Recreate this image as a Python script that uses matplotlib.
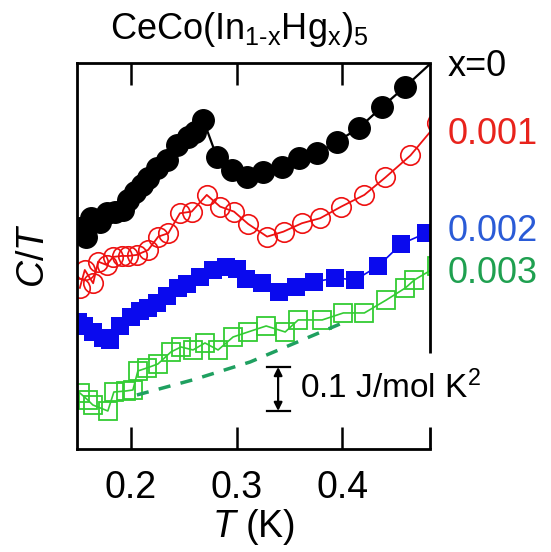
import matplotlib
matplotlib.use("Agg")
import matplotlib.pyplot as plt
import numpy as np

plt.rcParams['font.family'] = ['Liberation Sans', 'DejaVu Sans']
plt.rcParams['mathtext.fontset'] = 'custom'
plt.rcParams['mathtext.rm'] = 'Liberation Sans'
plt.rcParams['mathtext.it'] = 'Liberation Sans:italic'

# C/T curves (offset, J/mol K^2)
T_x0 = [0.1517, 0.158, 0.1627, 0.1706, 0.177, 0.1848, 0.1927, 0.1974, 0.2038, 0.2101,
        0.2164, 0.2244, 0.2338, 0.2433, 0.2543, 0.2607, 0.2685, 0.2812, 0.2955, 0.3097,
        0.3254, 0.3428, 0.3586, 0.376, 0.395, 0.4155, 0.4376, 0.4597, 0.49]
C_x0 = [0.502, 0.4825, 0.5243, 0.5166, 0.5357, 0.5394, 0.5432, 0.5659, 0.5848, 0.60,
        0.6152, 0.638, 0.6568, 0.6909, 0.7098, 0.7212, 0.7477, 0.6643, 0.6341, 0.6189,
        0.6303, 0.6416, 0.6606, 0.672, 0.6984, 0.7288, 0.7773, 0.8234, 0.89]

T_x1 = [0.1517, 0.1564, 0.1643, 0.169, 0.177, 0.1832, 0.1912, 0.1974, 0.2054, 0.2164,
        0.2259, 0.2354, 0.2464, 0.2575, 0.2718, 0.2844, 0.2976, 0.3109, 0.3289, 0.3444,
        0.3618, 0.3791, 0.399, 0.4209, 0.4408, 0.4645, 0.49]
C_x1 = [0.366, 0.4068, 0.3765, 0.4257, 0.4182, 0.4364, 0.4386, 0.4386, 0.4409, 0.4523,
        0.4825, 0.4902, 0.5356, 0.5393, 0.5773, 0.5507, 0.5393, 0.5114, 0.4825, 0.4939,
        0.5129, 0.5243, 0.5507, 0.5773, 0.617, 0.667, 0.74]

T_x2 = [0.1498, 0.1555, 0.164, 0.1735, 0.1801, 0.1896, 0.2, 0.2085, 0.2161, 0.2246,
        0.2341, 0.2445, 0.2531, 0.2654, 0.2777, 0.29, 0.3005, 0.309, 0.3242, 0.3403,
        0.3564, 0.3735, 0.3934, 0.4123, 0.4341, 0.4559, 0.4796]
C_x2 = [0.2886, 0.2795, 0.2659, 0.2523, 0.2477, 0.2795, 0.30, 0.3136, 0.3205, 0.3318,
        0.3477, 0.3659, 0.375, 0.3909, 0.4068, 0.4136, 0.4091, 0.3864, 0.3773, 0.3568,
        0.3682, 0.3795, 0.3886, 0.3841, 0.4159, 0.4659, 0.4909]

T_x3 = [0.1517, 0.1592, 0.164, 0.1782, 0.1839, 0.1953, 0.2019, 0.2066, 0.2152, 0.2256,
        0.2379, 0.2474, 0.2588, 0.2701, 0.2825, 0.2967, 0.3109, 0.328, 0.346, 0.3583,
        0.381, 0.401, 0.4209, 0.4417, 0.4597, 0.4682, 0.49]
C_x3 = [0.1273, 0.1114, 0.10, 0.0864, 0.1295, 0.1318, 0.1341, 0.1773, 0.1841, 0.1932,
        0.2205, 0.2318, 0.225, 0.2409, 0.225, 0.2545, 0.2659, 0.2795, 0.2659, 0.2932,
        0.2932, 0.3091, 0.3091, 0.3386, 0.3659, 0.3841, 0.415]

# background (dashed)
T_bg = [0.2057, 0.26, 0.3128, 0.4047]
C_bg = [0.1227, 0.158, 0.1977, 0.2909]

labels = ['x=0', '0.001', '0.002', '0.003']
label_colors = ['black', '#e8231c', '#2a5bd7', '#1fa050']

fig = plt.figure(figsize=(5.51, 5.52), dpi=100)
ax = fig.add_axes([0.1397, 0.1866, 0.6407, 0.6993])

ax.plot(T_x3, C_x3, '-s', color='#33cc33', lw=1.2, ms=13, mfc='none', mew=1.3)
ax.plot(T_bg, C_bg, '--', color='#1fa060', lw=2.5, dashes=(3.5, 3))
ax.plot(T_x2, C_x2, '-s', color='#0a0aee', lw=1.2, ms=13.5, mew=0)
ax.plot(T_x1, C_x1, '-o', color='#ee1111', lw=1.3, ms=14, mfc='none', mew=1.2)
ax.plot(T_x0, C_x0, '-o', color='black', lw=1.6, ms=15.5)

ax.set_xlim(0.149, 0.483)
ax.set_ylim(0, 0.877)
ax.set_xticks([0.2, 0.3, 0.4])
ax.set_xticklabels(['0.2', '0.3', '0.4'])
ax.set_yticks([])
ax.tick_params(axis='x', direction='in', top=True, length=16, width=1.8,
               labelsize=27, pad=15)
for s in ['left', 'top', 'bottom']:
    ax.spines[s].set_linewidth(2)
ax.spines['right'].set_visible(False)
# right spine broken around the scale bar
ax.plot([1, 1], [0.2487, 1], transform=ax.transAxes, color='black', lw=2,
        clip_on=False, solid_capstyle='butt')
ax.plot([1, 1], [0, 0.057], transform=ax.transAxes, color='black', lw=2,
        clip_on=False, solid_capstyle='butt')

ax.set_xlabel('$\\it{T}$ (K)', fontsize=27, labelpad=1)
ax.set_ylabel('$\\it{C/T}$', fontsize=27, labelpad=18)

# scale bar
ax.annotate('', xy=(0.3393, 0.0864), xytext=(0.3393, 0.1864),
            arrowprops=dict(arrowstyle='<|-|>', color='black', lw=1.6,
                            mutation_scale=12, shrinkA=0, shrinkB=0))
ax.plot([0.3289, 0.3507], [0.0864, 0.0864], color='black', lw=1.6)
ax.plot([0.3289, 0.3507], [0.1864, 0.1864], color='black', lw=1.6)
ax.text(0.3602, 0.138, '0.1 J/mol K$^{\\mathregular{2}}$', fontsize=24,
        va='center', ha='left')

label_y = [0.9896, 0.8135, 0.5622, 0.4534]
for lab, col, yy in zip(labels, label_colors, label_y):
    ax.text(1.05, yy, lab, color=col, fontsize=26, transform=ax.transAxes,
            ha='left', va='center')

fig.text(0.435, 0.93, 'CeCo(In$_{\\mathregular{1\u2010x}}$Hg$_{\\mathregular{x}}$)$_{\\mathregular{5}}$',
         fontsize=26, ha='center', va='baseline')

fig.savefig('out.png', dpi=100)
